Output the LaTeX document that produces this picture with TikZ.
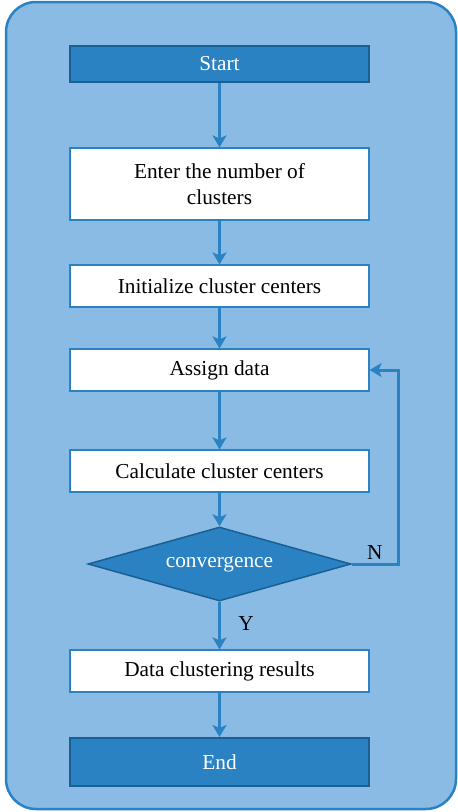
\documentclass[tikz,border=0pt]{standalone}
\usepackage{fontspec}
\setmainfont{Liberation Serif}
\usetikzlibrary{arrows.meta,shapes.geometric}
\definecolor{bgblue}{HTML}{89BBE5}
\definecolor{midblue}{HTML}{2A82C2}
\definecolor{darkblue}{HTML}{1A5F94}

\begin{document}
\begin{tikzpicture}[x=1pt,y=-1pt,
    termbox/.style={draw=darkblue,line width=2pt,fill=midblue,text=white,minimum width=299pt,inner sep=0pt,font=\fontsize{21.3}{24}\selectfont},
    procbox/.style={draw=midblue,line width=1.2pt,fill=white,minimum width=299pt,inner sep=0pt,align=center,font=\fontsize{21.3}{26}\selectfont},
    decide/.style={diamond,aspect=3.55,draw=darkblue,line width=1.5pt,fill=midblue,text=white,inner sep=0pt,minimum width=263pt,minimum height=74pt,font=\fontsize{21.3}{24}\selectfont},
    flow/.style={draw=midblue,line width=3pt,-{Stealth[length=12pt,width=14pt,inset=3pt]}}]
    \useasboundingbox (0,0) rectangle (458,812);
    \draw[draw=midblue,line width=2.5pt,fill=bgblue,rounded corners=30pt] (6,2) rectangle (456,809);
    \node[termbox,minimum height=36pt](start) at (219.5,64) {Start};
    \node[procbox,minimum height=72pt](enter) at (219.5,184) {Enter the number of\\clusters};
    \node[procbox,minimum height=42pt](init) at (219.5,286) {Initialize cluster centers};
    \node[procbox,minimum height=42pt](assign) at (219.5,370) {Assign data};
    \node[procbox,minimum height=42pt](calc) at (219.5,471) {Calculate cluster centers};
    \node[decide](conv) at (219.5,564) {convergence};
    \node[procbox,minimum height=42pt](result) at (219.5,671) {Data clustering results};
    \node[termbox,minimum height=48pt](end) at (219.5,762) {End};
    \coordinate(loop) at (398,564);
    \path[flow] (start) -- (enter);
    \path[flow] (enter) -- (init);
    \path[flow] (init) -- (assign);
    \path[flow] (assign) -- (calc);
    \path[flow] (calc) -- (conv);
    \path[flow] (conv) -- node[pos=0.45,right=14pt,text=black,font=\fontsize{21.3}{24}\selectfont] {Y} (result);
    \path[flow] (result) -- (end);
    \path[flow] (conv.east) -- node[above,pos=0.5,text=black,font=\fontsize{21.3}{24}\selectfont] {N} (loop) |- (assign.east);
  \end{tikzpicture}
\end{document}
